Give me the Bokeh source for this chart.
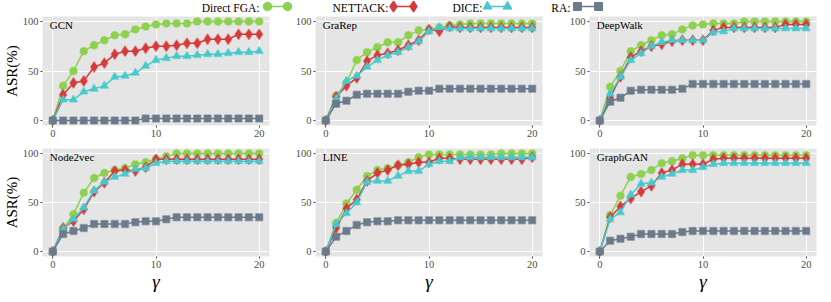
from bokeh.plotting import figure
from bokeh.layouts import column, row
from bokeh.models import Range1d, FixedTicker, Label
from bokeh.core.properties import value
from bokeh.embed import file_html
from bokeh.resources import INLINE

gamma = list(range(21))
methods = ["Direct FGA", "NETTACK", "DICE", "RA"]
panels = ["GCN", "GraRep", "DeepWalk", "Node2vec", "LINE", "GraphGAN"]

GCN_FGA = [0, 35, 50, 70, 76, 81, 86, 87, 92, 95, 97, 98, 98, 98, 100, 100, 100, 100, 100, 100, 100]
GCN_NET = [0, 26, 38, 40, 54, 58, 67, 70, 70, 73, 75, 75, 76, 78, 78, 82, 82, 82, 87, 87, 87]
GCN_DICE = [0, 21, 21, 29, 32, 35, 44, 45, 48, 55, 61, 63, 65, 65, 66, 67, 67, 68, 69, 69, 70]
GCN_RA = [0, 0, 0, 0, 0, 0, 0, 0, 0, 2, 2, 2, 2, 2, 2, 2, 2, 2, 2, 2, 2]

GraRep_FGA = [0, 25, 38, 61, 69, 74, 79, 79, 86, 91, 92, 94, 96, 97, 98, 98, 98, 98, 98, 98, 98]
GraRep_NET = [0, 24, 35, 43, 60, 66, 68, 71, 76, 81, 92, 90, 95, 94, 94, 94, 94, 94, 94, 94, 94]
GraRep_DICE = [0, 22, 40, 45, 54, 61, 66, 69, 74, 80, 90, 94, 93, 93, 93, 93, 93, 93, 93, 93, 93]
GraRep_RA = [0, 17, 20, 26, 27, 27, 27, 27, 29, 30, 30, 32, 32, 32, 32, 32, 32, 32, 32, 32, 32]

DeepWalk_FGA = [0, 34, 50, 70, 76, 81, 86, 87, 92, 96, 97, 98, 98, 98, 100, 100, 100, 100, 100, 100, 100]
DeepWalk_NET = [0, 23, 44, 64, 70, 75, 77, 80, 81, 81, 81, 91, 94, 94, 94, 94, 94, 94, 97, 97, 97]
DeepWalk_DICE = [0, 27, 44, 61, 68, 75, 79, 81, 81, 81, 81, 89, 90, 93, 93, 93, 93, 93, 93, 93, 93]
DeepWalk_RA = [0, 19, 23, 30, 31, 31, 31, 31, 32, 37, 37, 37, 37, 37, 37, 37, 37, 37, 37, 37, 37]

Node2vec_FGA = [0, 23, 38, 60, 75, 80, 83, 85, 89, 91, 94, 97, 100, 100, 100, 100, 100, 100, 100, 100, 100]
Node2vec_NET = [0, 24, 31, 43, 61, 70, 82, 83, 82, 86, 94, 94, 94, 94, 94, 94, 94, 94, 94, 94, 94]
Node2vec_DICE = [0, 23, 33, 45, 62, 71, 76, 79, 84, 85, 90, 92, 92, 92, 92, 92, 92, 92, 92, 92, 92]
Node2vec_RA = [0, 18, 21, 24, 28, 28, 28, 28, 30, 31, 31, 33, 35, 35, 35, 35, 35, 35, 35, 35, 35]

LINE_FGA = [0, 29, 49, 63, 77, 83, 85, 88, 91, 96, 99, 99, 99, 99, 99, 99, 99, 100, 100, 100, 100]
LINE_NET = [0, 24, 44, 53, 72, 80, 83, 88, 89, 91, 91, 95, 95, 94, 94, 94, 94, 94, 94, 94, 96]
LINE_DICE = [0, 28, 39, 50, 71, 72, 72, 77, 82, 82, 89, 92, 92, 96, 96, 96, 96, 96, 96, 96, 96]
LINE_RA = [0, 15, 21, 27, 30, 31, 31, 32, 32, 32, 32, 32, 32, 32, 32, 32, 32, 32, 32, 32, 32]

GraphGAN_FGA = [0, 37, 57, 76, 79, 83, 90, 92, 95, 98, 98, 98, 98, 98, 98, 98, 98, 98, 98, 98, 98]
GraphGAN_NET = [0, 35, 46, 54, 61, 67, 80, 83, 89, 89, 89, 94, 95, 95, 95, 95, 95, 95, 95, 95, 95]
GraphGAN_DICE = [0, 33, 40, 58, 69, 70, 76, 79, 83, 83, 86, 89, 90, 90, 90, 90, 90, 90, 90, 90, 90]
GraphGAN_RA = [0, 11, 13, 15, 18, 18, 18, 18, 20, 21, 21, 21, 21, 21, 21, 21, 21, 21, 21, 21, 21]

x_ticks = [0, 10, 20]
y_ticks = [0, 50, 100]

data = {
    "GCN": [GCN_FGA, GCN_NET, GCN_DICE, GCN_RA],
    "GraRep": [GraRep_FGA, GraRep_NET, GraRep_DICE, GraRep_RA],
    "DeepWalk": [DeepWalk_FGA, DeepWalk_NET, DeepWalk_DICE, DeepWalk_RA],
    "Node2vec": [Node2vec_FGA, Node2vec_NET, Node2vec_DICE, Node2vec_RA],
    "LINE": [LINE_FGA, LINE_NET, LINE_DICE, LINE_RA],
    "GraphGAN": [GraphGAN_FGA, GraphGAN_NET, GraphGAN_DICE, GraphGAN_RA],
}

colors = ["#8dd14f", "#d63a3a", "#47c9cd", "#6b7b8c"]
markers = ["circle", "diamond", "triangle", "square"]
sizes = [7.5, 10.5, 8, 7]
FONT = "'Liberation Serif', 'Times New Roman', 'DejaVu Serif', serif"
BG = "#e5e5e5"

# layout (px)
FRAME_W = 227
LEFT = [36, 32, 32]
RIGHT = [14, 15, 5]


def make_panel(name, col, rownum):
    if rownum == 0:
        top, fh, bottom = 1, 109, 20
    else:
        top, fh, bottom = 3, 108, 30
    p = figure(frame_width=FRAME_W, frame_height=fh, output_backend="svg",
               toolbar_location=None, x_range=Range1d(-1, 21), y_range=Range1d(-5, 105),
               min_border_left=LEFT[col], min_border_right=RIGHT[col], min_border_top=top,
               min_border_bottom=bottom)
    p.background_fill_color = BG
    p.border_fill_color = "white"
    p.outline_line_color = None
    for ax in (p.xaxis[0], p.yaxis[0]):
        ax.axis_line_color = None
        ax.major_tick_line_color = "#444444"
        ax.major_tick_out = 2
        ax.major_tick_in = 0
        ax.minor_tick_line_color = None
        ax.major_label_text_font = FONT
        ax.major_label_text_font_size = "10.5px"
        ax.major_label_text_color = "#4d4d4d"
        ax.major_label_standoff = 2
        ax.axis_label_text_font = FONT
        ax.axis_label_text_font_style = "normal"
        ax.axis_label_text_color = "black"
    p.xaxis.ticker = FixedTicker(ticks=x_ticks)
    p.yaxis.ticker = FixedTicker(ticks=y_ticks)
    p.xgrid.ticker = FixedTicker(ticks=x_ticks)
    p.ygrid.ticker = FixedTicker(ticks=y_ticks)
    p.grid.grid_line_color = "white"
    p.grid.grid_line_width = 1
    if col == 0:
        p.yaxis.axis_label = "ASR(%)"
        p.yaxis.axis_label_text_font_size = "15px"
        p.yaxis.axis_label_standoff = 0
    if rownum == 1:
        p.xaxis.axis_label = "γ"
        p.xaxis.axis_label_text_font_size = "19px"
        p.xaxis.axis_label_text_font_style = "italic"
        p.xaxis.axis_label_standoff = 0
    for vals, c, m, s in zip(data[name], colors, markers, sizes):
        p.line(gamma, vals, line_color=c, line_width=1.5)
        p.scatter(gamma, vals, marker=m, size=s, fill_color=c, line_color=c,
                  line_alpha=0.45, line_width=1.5)
    p.add_layout(Label(x=-0.3, y=96, text=name, text_font=FONT, text_font_size="11px",
                       text_font_style="normal", text_color="black",
                       text_baseline="middle"))
    return p


figs = [make_panel(n, i % 3, i // 3) for i, n in enumerate(panels)]

# legend strip
leg_label_x = [259, 388, 482, 570]
leg_glyph_x0 = [267, 393, 487, 577]
leg_glyph_x1 = [287, 413, 507, 598]
lg = figure(width=815, height=15, output_backend="svg", toolbar_location=None,
            x_range=Range1d(0, 815), y_range=Range1d(15, 0),
            min_border=0, outline_line_color=None)
lg.axis.visible = False
lg.grid.visible = False
lg.background_fill_color = "white"
for lab, lx, g0, g1, c, m, s in zip(methods, leg_label_x, leg_glyph_x0, leg_glyph_x1,
                                     colors, markers, sizes):
    lg.text(x=[lx], y=[7], text=[lab + ":"], text_align="right", text_baseline="middle",
            text_font=value(FONT), text_font_size="11.5px", text_color="black")
    lg.line([g0, g1], [6], line_color=c, line_width=1.5) if False else \
        lg.line([g0, g1], [6, 6], line_color=c, line_width=1.5)
    lg.scatter([g0, g1], [6, 6], marker=m, size=s + 1, fill_color=c, line_color=c)

layout = column(lg, row(*figs[:3]), row(*figs[3:]))
open("out.html", "w").write(file_html(layout, INLINE))
